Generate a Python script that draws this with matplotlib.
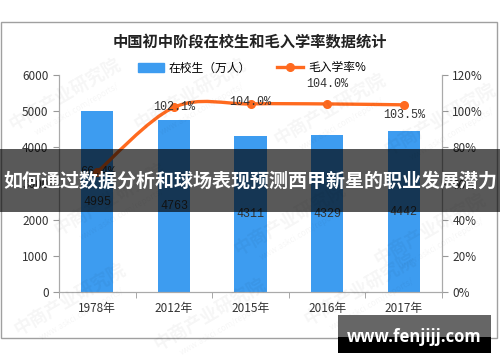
import matplotlib.pyplot as plt
import numpy as np
from matplotlib.path import Path
from matplotlib.patches import PathPatch, Rectangle
from matplotlib.lines import Line2D

plt.rcParams['font.family'] = ['Noto Sans CJK SC', 'DejaVu Sans']

# 数据
years = ['1978年', '2012年', '2015年', '2016年', '2017年']
students = [4995, 4763, 4311, 4329, 4442]
rate = [66.4, 102.1, 104.0, 104.0, 103.5]
rate_labels = ['66.4%', '102.1%', '104.0%', '104.0%', '103.5%']
rate_label_dy = [0, 0, 1.5, 14, -7.5]   # 标签偏移 (pt)

BLUE = '#3d9cf0'
ORANGE = '#ff6a1f'
W, H = 500, 362


def fpos(x, y):
    # 像素 -> figure 坐标
    return x / W, 1 - y / H


def smooth_path(xs, ys):
    # Excel 式平滑曲线 (Catmull-Rom -> Bezier)
    pts = np.column_stack([xs, ys]).astype(float)
    n = len(pts)
    verts = [pts[0]]
    codes = [Path.MOVETO]
    for i in range(n - 1):
        p0 = pts[max(i - 1, 0)]
        p1 = pts[i]
        p2 = pts[i + 1]
        p3 = pts[min(i + 2, n - 1)]
        c1 = p1 + (p2 - p0) / 6
        c2 = p2 - (p3 - p1) / 6
        verts += [c1, c2, p2]
        codes += [Path.CURVE4] * 3
    return Path(verts, codes)


fig = plt.figure(figsize=(5, 3.62), dpi=100)

# 外框
fig.add_artist(Rectangle(fpos(1, 338), 496 / W, 316 / H, transform=fig.transFigure,
                         fill=False, edgecolor='#a0a0a0', lw=1))

l, t = fpos(59, 75)
r, b = fpos(442, 292)
ax = fig.add_axes([l, b, r - l, t - b])
ax2 = ax.twinx()

x = np.arange(len(years))
ax.bar(x, students, width=0.42, color=BLUE, zorder=2)
for xi, v in zip(x, students):
    ax.text(xi, v / 2, str(v), ha='center', va='center', fontsize=8.5,
            family='Liberation Mono', color='#333333', zorder=3)

ax.set_xlim(-0.5, len(years) - 0.5)
ax.set_ylim(0, 6000)
ax.set_yticks(range(0, 6001, 1000))
ax.set_xticks(x)
ax.set_xticklabels(years)
ax.set_xticks(np.arange(-0.5, len(years), 1), minor=True)
ax.tick_params(axis='x', which='major', length=0, pad=7, labelsize=8.5, labelcolor='#333333')
ax.tick_params(axis='x', which='minor', length=4, color='#999999', direction='out')
ax.tick_params(axis='y', length=4, color='#999999', labelsize=8.5, labelcolor='#333333')

ax2.set_ylim(0, 120)
ax2.set_yticks(range(0, 121, 20))
ax2.set_yticklabels([f'{v}%' for v in range(0, 121, 20)])
ax2.tick_params(axis='y', length=4, color='#999999', labelsize=8.5, labelcolor='#333333')

for a in (ax, ax2):
    a.spines['top'].set_visible(False)
    for s in ('left', 'right', 'bottom'):
        a.spines[s].set_color('#aaaaaa')
ax.patch.set_alpha(0)

ax2.add_patch(PathPatch(smooth_path(x, rate), fill=False, edgecolor=ORANGE, lw=2.4,
                        zorder=3, capstyle='round'))
ax2.plot(x, rate, 'o', color=ORANGE, ms=5.5, zorder=4)
for xi, v, lab, dy in zip(x, rate, rate_labels, rate_label_dy):
    ax2.annotate(lab, (xi, v), xytext=(0, dy), textcoords='offset points',
                 ha='center', va='center', fontsize=8.5, family='Liberation Mono',
                 color='#333333', zorder=5)

# 标题和图例
fig.text(*fpos(250, 42), '中国初中阶段在校生和毛入学率数据统计', ha='center', va='center',
         fontsize=11, fontweight='bold', color='#222222')
handles = [Rectangle((0, 0), 1, 1, color=BLUE),
           Line2D([], [], color=ORANGE, lw=2.4, marker='o', ms=5.5)]
fig.legend(handles, ['在校生（万人）', '毛入学率%'], loc='center', bbox_to_anchor=fpos(252, 68),
           ncol=2, frameon=False, fontsize=8.5, handlelength=2.2, columnspacing=2.2,
           handletextpad=0.4)

# 水印
for wx, wy in [(65, 95), (190, 95), (330, 110), (440, 120), (110, 200), (290, 220),
               (430, 230), (70, 300), (210, 315), (360, 290)]:
    fig.text(*fpos(wx, wy), '中商产业研究院', rotation=30, ha='center', va='center',
             fontsize=13, fontweight='bold', color='#000000', alpha=0.04)
    fig.text(*fpos(wx + 12, wy + 14), 'www.askci.com/reports/', rotation=30, ha='center',
             va='center', fontsize=6, color='#000000', alpha=0.04)

# 横幅
fig.add_artist(Rectangle(fpos(0, 212), 1, 63 / H, transform=fig.transFigure,
                         color='black', alpha=0.65, lw=0, zorder=10))
fig.text(*fpos(250, 181), '如何通过数据分析和球场表现预测西甲新星的职业发展潜力',
         ha='center', va='center', fontsize=13.7, fontweight='bold', color='white', zorder=11)

# 网址标记
fig.add_artist(Rectangle(fpos(338, 337), 153 / W, 22 / H, transform=fig.transFigure,
                         color='#666666', lw=0, zorder=10))
fig.add_artist(Rectangle(fpos(338, 353), 153 / W, 16 / H, transform=fig.transFigure,
                         color='black', lw=0, zorder=10))
fig.text(*fpos(414, 337), 'www.fenjijj.com', ha='center', va='center', fontsize=12,
         fontweight='bold', color='white', family=['Open Sans', 'DejaVu Sans'], zorder=11)

fig.savefig('out.png', dpi=100)
